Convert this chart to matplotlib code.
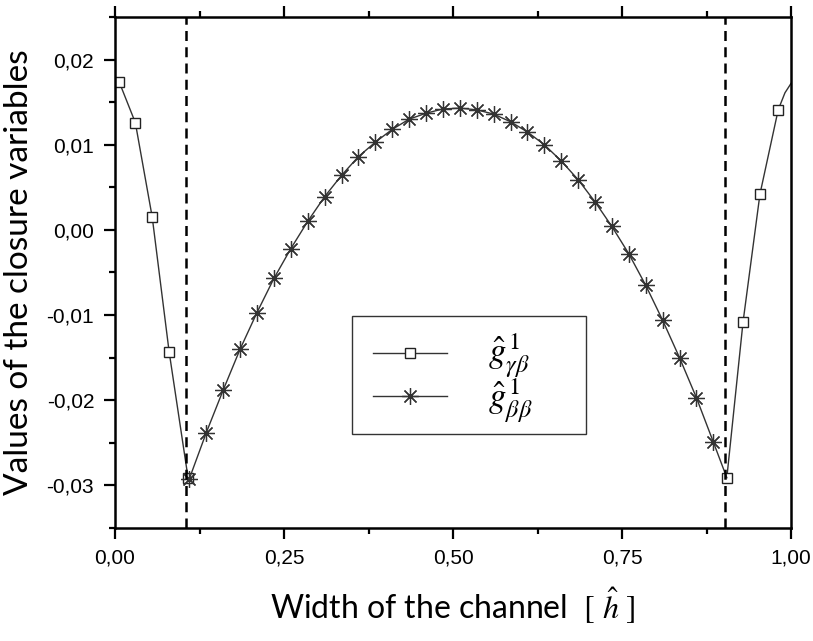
import numpy as np
import matplotlib
matplotlib.use("Agg")
import matplotlib.pyplot as plt
from matplotlib.lines import Line2D
from matplotlib.patches import Rectangle
from matplotlib.ticker import MultipleLocator, FuncFormatter

plt.rcParams['mathtext.fontset'] = 'stix'

# g_hat gamma-beta (squares), nan splits the two wall regions
sq_x = [0.006, 0.030, 0.055, 0.080, 0.108, np.nan, 0.905, 0.929, 0.954, 0.981, 0.991, 1.000]
sq_y = [0.0174, 0.0126, 0.0015, -0.0143, -0.0291, np.nan, -0.0291, -0.0108, 0.0042, 0.0141, 0.0161, 0.0172]
sq_marks = [0, 1, 2, 3, 4, 6, 7, 8, 9]

# g_hat beta-beta (stars), last point is the joint with the square curve
st_x = [0.110, 0.135, 0.160, 0.185, 0.210, 0.235, 0.260, 0.285, 0.310, 0.335, 0.360,
        0.385, 0.410, 0.435, 0.460, 0.485, 0.510, 0.535, 0.560, 0.585, 0.610, 0.635,
        0.660, 0.685, 0.710, 0.735, 0.760, 0.785, 0.810, 0.835, 0.860, 0.885, 0.905]
st_y = [-0.0292, -0.0238, -0.0188, -0.0140, -0.0097, -0.0057, -0.0022, 0.0010, 0.0039,
        0.0064, 0.0086, 0.0103, 0.0118, 0.0130, 0.0137, 0.0142, 0.0143, 0.0141, 0.0136,
        0.0127, 0.0115, 0.0100, 0.0081, 0.0059, 0.0033, 0.0004, -0.0028, -0.0065,
        -0.0106, -0.0150, -0.0197, -0.0249, -0.0291]
st_marks = list(range(32))

labels = [r'$\hat{g}^{\,1}_{\gamma\beta}$', r'$\hat{g}^{\,1}_{\beta\beta}$']
interfaces = [0.105, 0.902]
x_ticks = [0.0, 0.25, 0.5, 0.75, 1.0]
y_ticks = [-0.03, -0.02, -0.01, 0.0, 0.01, 0.02]

fig = plt.figure(figsize=(8.13, 6.41), dpi=100)
ax = fig.add_axes([0.1415, 0.1763, 0.8315, 0.7972])

sq_style = dict(color='#333333', lw=1.0, marker='s', markersize=7.5,
                markerfacecolor='white', markeredgecolor='#222222', markeredgewidth=1.0)
st_style = dict(color='#333333', lw=1.0, marker=(8, 2, 0), markersize=12,
                markeredgecolor='#333333', markeredgewidth=0.9)

ax.plot(sq_x, sq_y, markevery=sq_marks, **sq_style)
ax.plot(st_x, st_y, markevery=st_marks, **st_style)

for xv in interfaces:
    ax.axvline(xv, color='black', lw=1.8, ls=(0, (4, 2.5)))

ax.set_xlim(0, 1)
ax.set_ylim(-0.035, 0.025)
ax.set_xticks(x_ticks)
ax.set_yticks(y_ticks)
ax.xaxis.set_minor_locator(MultipleLocator(0.125))
ax.yaxis.set_minor_locator(MultipleLocator(0.005))
ax.xaxis.set_major_formatter(FuncFormatter(lambda v, p: f"{v:.2f}".replace('.', ',')))
ax.yaxis.set_major_formatter(FuncFormatter(lambda v, p: f"{v:.2f}".replace('.', ',').replace('\u2212', '-')))

ax.tick_params(which='both', direction='out', width=1.6, labelsize=15, top=True, right=False)
ax.tick_params(which='major', length=8, pad=7)
ax.tick_params(which='minor', length=4)
for lab in ax.get_xticklabels() + ax.get_yticklabels():
    lab.set_family('Liberation Sans')
for s in ax.spines.values():
    s.set_linewidth(1.8)

ax.set_xlabel(r'Width of the channel  $[\ \hat{h}\ ]$', fontsize=23, family='Lato', labelpad=13)
ax.set_ylabel('Values of the closure variables', fontsize=24, family='Lato', labelpad=9)

# legend box drawn by hand (Origin style, wide right padding)
ax.add_patch(Rectangle((0.3506, 0.184), 0.3461, 0.2309, transform=ax.transAxes,
                       facecolor='white', edgecolor='#333333', lw=1.0, zorder=5))
for i, (style, lab) in enumerate([(sq_style, labels[0]), (st_style, labels[1])]):
    yy = [0.3425, 0.2583][i]
    h = Line2D([0.3817, 0.4364, 0.4911], [yy, yy, yy], transform=ax.transAxes,
               markevery=[1], zorder=6, **style)
    ax.add_line(h)
    ax.text(0.5518, [0.3376, 0.2495][i], lab, transform=ax.transAxes, fontsize=25,
            va='center', ha='left', zorder=6)

plt.savefig('out.png', dpi=100)
